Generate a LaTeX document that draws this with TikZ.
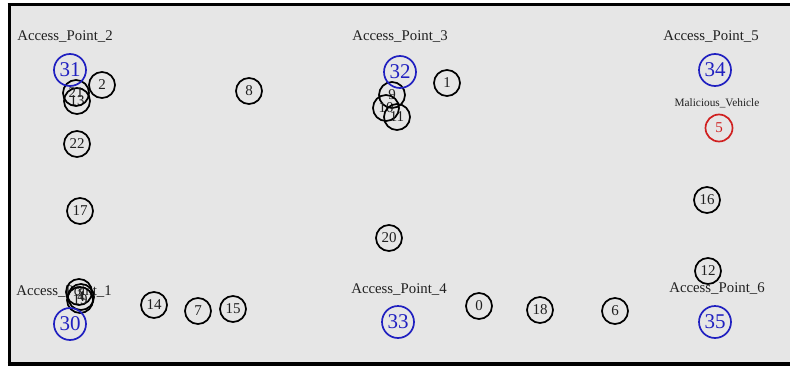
\documentclass[tikz,border=0pt]{standalone}
\usepackage{fontspec}
\setmainfont{Liberation Serif}
\definecolor{bggray}{HTML}{E6E6E6}
\definecolor{apblue}{HTML}{2020C0}
\definecolor{malred}{HTML}{D02020}
\definecolor{txtgray}{HTML}{202020}
\begin{document}
\begin{tikzpicture}[x=1pt,y=-1pt,
  veh/.style={circle,draw=black,line width=1.7pt,minimum size=26pt,inner sep=0pt,font=\fontsize{15}{15}\selectfont,text=txtgray},
  apnode/.style={circle,draw=apblue,line width=1.7pt,minimum size=32pt,inner sep=0pt,font=\fontsize{21}{21}\selectfont,text=apblue},
  malnode/.style={circle,draw=malred,line width=1.7pt,minimum size=27pt,inner sep=0pt,font=\fontsize{15}{15}\selectfont,text=malred},
  aplabel/.style={font=\fontsize{14.8}{14.8}\selectfont,text=txtgray,inner sep=0pt},
  mallabel/.style={font=\fontsize{11.3}{11.3}\selectfont,text=txtgray,inner sep=0pt}]
\useasboundingbox (0,0) rectangle (790,367);
\fill[white] (0,0) rectangle (790,367);
\fill[bggray] (9,4.5) rectangle (790,364);
\draw[line width=3pt] (9,3) -- (9,366);
\draw[line width=3pt] (7.5,4.5) -- (790,4.5);
\draw[line width=3.5pt] (7.5,364) -- (790,364);
% access point labels
\node[aplabel] (l2) at (65,37) {Access\_Point\_2};
\node[aplabel] (l3) at (400,37) {Access\_Point\_3};
\node[aplabel] (l5) at (711,37) {Access\_Point\_5};
\node[mallabel] (lm) at (717,103) {Malicious\_Vehicle};
\node[aplabel] (l1) at (64,292) {Access\_Point\_1};
\node[aplabel] (l4) at (399,290) {Access\_Point\_4};
% vehicles
\node[veh] (n2) at (102,85) {2};
\node[veh] (n13) at (77,101) {13};
\node[veh] (n21) at (76,93) {21};
\node[veh] (n8) at (249,91) {8};
\node[veh] (n22) at (77,144) {22};
\node[veh] (n17) at (80,211) {17};
\node[veh] (n3) at (79,292) {3};
\node[veh] (n4) at (81,297) {4};
\node[veh] (n19) at (80,300) {19};
\node[veh] (n14) at (154,305) {14};
\node[veh] (n7) at (198,311) {7};
\node[veh] (n15) at (233,309) {15};
\node[veh] (n9) at (392,95) {9};
\node[veh] (n10) at (386,108) {10};
\node[veh] (n11) at (397,117) {11};
\node[veh] (n1) at (447,83) {1};
\node[veh] (n20) at (389,238) {20};
\node[veh] (n0) at (479,306) {0};
\node[veh] (n18) at (540,310) {18};
\node[veh] (n6) at (615,311) {6};
\node[veh] (n16) at (707,200) {16};
\node[veh] (n12) at (708,271) {12};
\node[aplabel] (l6) at (717,289) {Access\_Point\_6};
% access points
\node[apnode] (n31) at (70,70) {31};
\node[apnode] (n32) at (400,72) {32};
\node[apnode] (n34) at (715,70) {34};
\node[apnode] (n30) at (70,324) {30};
\node[apnode] (n33) at (398,322) {33};
\node[apnode] (n35) at (715,322) {35};
\node[malnode] (n5) at (719,128) {5};
\end{tikzpicture}
\end{document}
